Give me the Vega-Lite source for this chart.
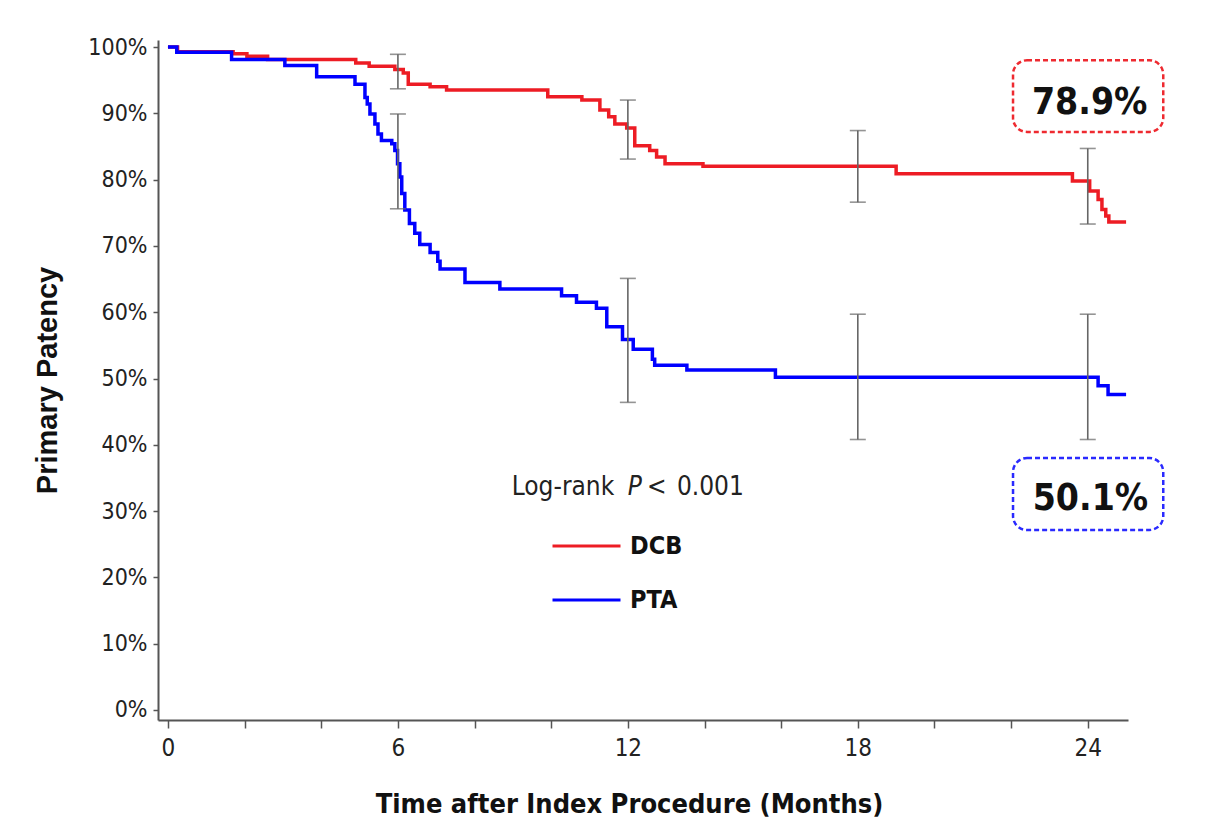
{
  "$schema": "https://vega.github.io/schema/vega-lite/v6.json",
  "autosize": {"type": "none"},
  "width": 970,
  "height": 680,
  "padding": {"left": 158, "top": 40, "right": 91, "bottom": 104},
  "background": "white",
  "config": {"view": {"stroke": null}, "font": "DejaVu Sans Condensed, Liberation Sans, sans-serif"},
  "datasets": {
    "km": [
      {"group": "DCB", "t": 0, "s": 100},
      {"group": "DCB", "t": 0.25, "s": 99.3},
      {"group": "DCB", "t": 1.7, "s": 99.0},
      {"group": "DCB", "t": 2.06, "s": 98.6},
      {"group": "DCB", "t": 2.6, "s": 98.1},
      {"group": "DCB", "t": 4.9, "s": 97.6},
      {"group": "DCB", "t": 5.25, "s": 97.1},
      {"group": "DCB", "t": 5.92, "s": 96.6},
      {"group": "DCB", "t": 6.14, "s": 96.1},
      {"group": "DCB", "t": 6.27, "s": 94.4},
      {"group": "DCB", "t": 6.84, "s": 94.0},
      {"group": "DCB", "t": 7.27, "s": 93.5},
      {"group": "DCB", "t": 9.91, "s": 92.5},
      {"group": "DCB", "t": 10.8, "s": 92.0},
      {"group": "DCB", "t": 11.27, "s": 90.5},
      {"group": "DCB", "t": 11.5, "s": 89.5},
      {"group": "DCB", "t": 11.66, "s": 88.4},
      {"group": "DCB", "t": 11.97, "s": 87.8},
      {"group": "DCB", "t": 12.18, "s": 85.1},
      {"group": "DCB", "t": 12.57, "s": 84.4},
      {"group": "DCB", "t": 12.75, "s": 83.4},
      {"group": "DCB", "t": 12.97, "s": 82.4},
      {"group": "DCB", "t": 13.96, "s": 82.0},
      {"group": "DCB", "t": 19.0, "s": 80.9},
      {"group": "DCB", "t": 23.6, "s": 79.8},
      {"group": "DCB", "t": 24.05, "s": 78.3},
      {"group": "DCB", "t": 24.27, "s": 77.0},
      {"group": "DCB", "t": 24.37, "s": 75.5},
      {"group": "DCB", "t": 24.47, "s": 74.5},
      {"group": "DCB", "t": 24.55, "s": 73.6},
      {"group": "DCB", "t": 25.0, "s": 73.6},
      {"group": "PTA", "t": 0, "s": 100},
      {"group": "PTA", "t": 0.23, "s": 99.2},
      {"group": "PTA", "t": 1.66, "s": 98.1},
      {"group": "PTA", "t": 3.05, "s": 97.2},
      {"group": "PTA", "t": 3.88, "s": 95.5},
      {"group": "PTA", "t": 4.88, "s": 94.4},
      {"group": "PTA", "t": 5.14, "s": 92.4},
      {"group": "PTA", "t": 5.2, "s": 91.4},
      {"group": "PTA", "t": 5.27, "s": 89.9},
      {"group": "PTA", "t": 5.4, "s": 88.4},
      {"group": "PTA", "t": 5.48, "s": 86.9},
      {"group": "PTA", "t": 5.57, "s": 85.9},
      {"group": "PTA", "t": 5.84, "s": 85.4},
      {"group": "PTA", "t": 5.92, "s": 84.4},
      {"group": "PTA", "t": 5.99, "s": 82.4},
      {"group": "PTA", "t": 6.05, "s": 80.4},
      {"group": "PTA", "t": 6.1, "s": 77.9},
      {"group": "PTA", "t": 6.18, "s": 75.4},
      {"group": "PTA", "t": 6.3, "s": 73.4},
      {"group": "PTA", "t": 6.44, "s": 71.9},
      {"group": "PTA", "t": 6.57, "s": 70.2},
      {"group": "PTA", "t": 6.84, "s": 69.0},
      {"group": "PTA", "t": 7.04, "s": 67.7},
      {"group": "PTA", "t": 7.1, "s": 66.5},
      {"group": "PTA", "t": 7.75, "s": 64.5},
      {"group": "PTA", "t": 8.66, "s": 63.5},
      {"group": "PTA", "t": 10.27, "s": 62.5},
      {"group": "PTA", "t": 10.66, "s": 61.5},
      {"group": "PTA", "t": 11.18, "s": 60.6},
      {"group": "PTA", "t": 11.45, "s": 57.8},
      {"group": "PTA", "t": 11.86, "s": 55.9},
      {"group": "PTA", "t": 12.14, "s": 54.4},
      {"group": "PTA", "t": 12.64, "s": 52.9},
      {"group": "PTA", "t": 12.7, "s": 52.0},
      {"group": "PTA", "t": 13.54, "s": 51.3},
      {"group": "PTA", "t": 15.85, "s": 50.2},
      {"group": "PTA", "t": 24.27, "s": 48.9},
      {"group": "PTA", "t": 24.53, "s": 47.6},
      {"group": "PTA", "t": 25.0, "s": 47.6}
    ],
    "ci": [
      {"group": "DCB", "t": 6, "lo": 93.7, "hi": 98.9},
      {"group": "DCB", "t": 12, "lo": 83.1, "hi": 92.0},
      {"group": "DCB", "t": 18, "lo": 76.6, "hi": 87.4},
      {"group": "DCB", "t": 24, "lo": 73.3, "hi": 84.7},
      {"group": "PTA", "t": 6, "lo": 75.6, "hi": 89.9},
      {"group": "PTA", "t": 12, "lo": 46.4, "hi": 65.1},
      {"group": "PTA", "t": 18, "lo": 40.8, "hi": 59.7},
      {"group": "PTA", "t": 24, "lo": 40.8, "hi": 59.7}
    ],
    "ann": [
      {"group": "DCB", "label": "78.9%", "tx": 24.05, "ty": 89.9, "x1": 22.05, "x2": 25.97, "y1": 87.2, "y2": 98.0},
      {"group": "PTA", "label": "50.1%", "tx": 24.07, "ty": 30.2, "x1": 22.05, "x2": 25.97, "y1": 27.15, "y2": 38.0}
    ]
  },
  "layer": [
    {
      "data": {"name": "km"},
      "mark": {"type": "line", "interpolate": "step-after", "strokeWidth": 3.5},
      "encoding": {
        "x": {
          "field": "t", "type": "quantitative",
          "scale": {"domain": [-0.26, 25.05], "nice": false, "zero": false},
          "axis": {
            "values": [0, 2, 4, 6, 8, 10, 12, 14, 16, 18, 20, 22, 24],
            "labelExpr": "datum.value % 6 === 0 ? datum.value : ''",
            "grid": false,
            "domainColor": "#555", "domainWidth": 2,
            "tickColor": "#555", "tickWidth": 1.5, "tickSize": 8,
            "labelFont": "DejaVu Sans Condensed, Liberation Sans, sans-serif", "labelFontSize": 24, "labelColor": "#222", "labelPadding": 8,
            "title": "Time after Index Procedure (Months)",
            "titleFont": "DejaVu Sans Condensed, Liberation Sans, sans-serif", "titleFontWeight": "bold", "titleFontSize": 27, "titleColor": "#111",
            "titleX": 471, "titleY": 92, "titleBaseline": "alphabetic", "titleAlign": "center"
          }
        },
        "y": {
          "field": "s", "type": "quantitative",
          "scale": {"domain": [-1.51, 101.06], "nice": false, "zero": false},
          "axis": {
            "values": [0, 10, 20, 30, 40, 50, 60, 70, 80, 90, 100],
            "labelExpr": "datum.value + '%'",
            "grid": false,
            "domainColor": "#555", "domainWidth": 2,
            "tickColor": "#555", "tickWidth": 1.5, "tickSize": 5,
            "labelFont": "DejaVu Sans Condensed, Liberation Sans, sans-serif", "labelFontSize": 23, "labelColor": "#222", "labelPadding": 6,
            "title": "Primary Patency",
            "titleFont": "Liberation Sans", "titleFontWeight": "bold", "titleFontSize": 29, "titleColor": "#111",
            "titleX": -102, "titleY": 340, "titleAngle": -90, "titleBaseline": "alphabetic", "titleAlign": "center"
          }
        },
        "color": {
          "field": "group", "type": "nominal",
          "scale": {"domain": ["DCB", "PTA"], "range": ["#ed1c24", "#0000ff"]},
          "legend": {
            "title": null, "orient": "none", "legendX": 393, "legendY": 492,
            "padding": 0, "symbolType": "stroke", "symbolSize": 4624, "symbolStrokeWidth": 3,
            "clipHeight": 28, "rowPadding": 26, "labelOffset": 8,
            "labelFont": "DejaVu Sans Condensed, Liberation Sans, sans-serif", "labelFontWeight": "bold", "labelFontSize": 25, "labelColor": "#111"
          }
        }
      }
    },
    {
      "data": {"name": "ci"},
      "mark": {"type": "rule", "color": "#666", "strokeWidth": 1.6},
      "encoding": {
        "x": {"field": "t", "type": "quantitative"},
        "y": {"field": "lo", "type": "quantitative"},
        "y2": {"field": "hi"}
      }
    },
    {
      "data": {"name": "ci"},
      "mark": {"type": "tick", "orient": "horizontal", "size": 16, "thickness": 1.6, "color": "#666"},
      "encoding": {
        "x": {"field": "t", "type": "quantitative"},
        "y": {"field": "lo", "type": "quantitative"}
      }
    },
    {
      "data": {"name": "ci"},
      "mark": {"type": "tick", "orient": "horizontal", "size": 16, "thickness": 1.6, "color": "#666"},
      "encoding": {
        "x": {"field": "t", "type": "quantitative"},
        "y": {"field": "hi", "type": "quantitative"}
      }
    },
    {
      "data": {"name": "ann"},
      "mark": {"type": "rect", "fill": null, "fillOpacity": 0, "strokeWidth": 2.5, "strokeDash": [5, 3], "cornerRadius": 14},
      "encoding": {
        "x": {"field": "x1", "type": "quantitative"},
        "x2": {"field": "x2"},
        "y": {"field": "y1", "type": "quantitative"},
        "y2": {"field": "y2"},
        "stroke": {
          "field": "group", "type": "nominal",
          "scale": {"domain": ["DCB", "PTA"], "range": ["#ee2a30", "#2a2aff"]},
          "legend": null
        }
      }
    },
    {
      "data": {"name": "ann"},
      "mark": {"type": "text", "font": "DejaVu Sans Condensed, Liberation Sans, sans-serif", "fontWeight": "bold", "fontSize": 37, "color": "#111", "align": "center", "baseline": "alphabetic"},
      "encoding": {
        "x": {"field": "tx", "type": "quantitative"},
        "y": {"field": "ty", "type": "quantitative"},
        "text": {"field": "label"}
      }
    },
    {
      "data": {"values": [{"x": 8.97, "y": 32.4, "txt": "Log-rank"}, {"x": 12.5, "y": 32.4, "txt": "<"}, {"x": 13.28, "y": 32.4, "txt": "0.001"}]},
      "mark": {"type": "text", "font": "DejaVu Sans Condensed, Liberation Sans, sans-serif", "fontSize": 26, "color": "#222", "align": "left", "baseline": "alphabetic"},
      "encoding": {
        "x": {"field": "x", "type": "quantitative"},
        "y": {"field": "y", "type": "quantitative"},
        "text": {"field": "txt"}
      }
    },
    {
      "data": {"values": [{"x": 12.0, "y": 32.4, "txt": "P"}]},
      "mark": {"type": "text", "font": "DejaVu Sans Condensed, Liberation Sans, sans-serif", "fontSize": 26, "fontStyle": "italic", "color": "#222", "align": "left", "baseline": "alphabetic"},
      "encoding": {
        "x": {"field": "x", "type": "quantitative"},
        "y": {"field": "y", "type": "quantitative"},
        "text": {"field": "txt"}
      }
    }
  ]
}
